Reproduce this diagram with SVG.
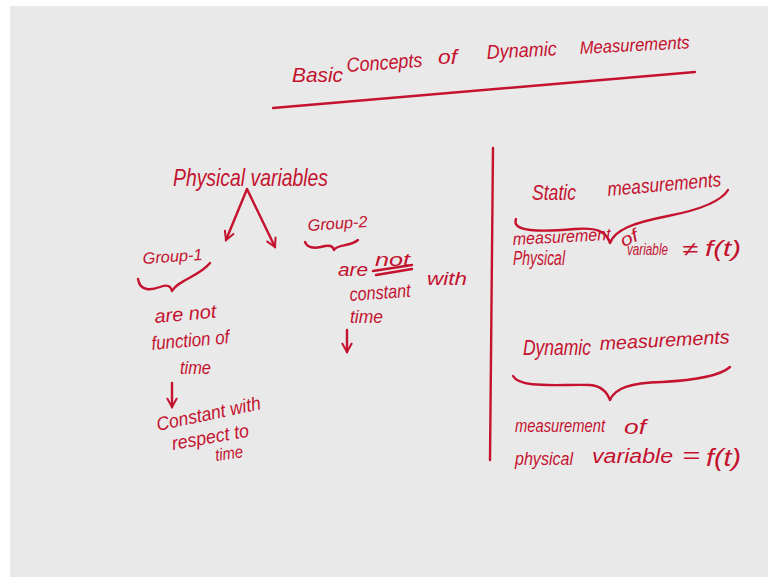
<svg xmlns="http://www.w3.org/2000/svg" width="768" height="577" viewBox="0 0 768 577">
<defs>
<style>
.ink{fill:#c4122f;font-family:"Liberation Sans","DejaVu Sans",sans-serif;font-style:italic}
.st{fill:none;stroke:#c4122f;stroke-width:2.4;stroke-linecap:round;stroke-linejoin:round}
</style>
<marker id="ah" viewBox="0 0 12 12" refX="10" refY="6" markerWidth="5" markerHeight="5" orient="auto" markerUnits="strokeWidth">
<path d="M1,1 L10,6 L1,11" fill="none" stroke="#c4122f" stroke-width="2"/>
</marker>
</defs>
<rect x="0" y="0" width="768" height="577" fill="#ffffff"/>
<rect x="10" y="6" width="758" height="571" fill="#e9e9e9"/>

<g id="title">
<text class="ink" x="292" y="82" font-size="21" textLength="51" lengthAdjust="spacingAndGlyphs">Basic</text>
<text class="ink" x="347" y="72" font-size="20" textLength="76" lengthAdjust="spacingAndGlyphs" transform="rotate(-4 347 72)">Concepts</text>
<text class="ink" x="438" y="64" font-size="20" textLength="19" lengthAdjust="spacingAndGlyphs">of</text>
<text class="ink" x="487" y="59" font-size="20" textLength="70" lengthAdjust="spacingAndGlyphs" transform="rotate(-3 487 59)">Dynamic</text>
<text class="ink" x="580" y="54" font-size="18" textLength="110" lengthAdjust="spacingAndGlyphs" transform="rotate(-3 580 54)">Measurements</text>
<path class="st" d="M273,108 L695,72"/>
</g>

<path class="st" id="divider" d="M493,148 L490,460"/>

<g id="physical-variables">
<text class="ink" x="173" y="186" font-size="24" textLength="155" lengthAdjust="spacingAndGlyphs">Physical variables</text>
</g>

<g id="connectors">
<path class="st" d="M247,189 L226,240" marker-end="url(#ah)"/>
<path class="st" d="M247,189 L275,247" marker-end="url(#ah)"/>
<path class="st" d="M172,383 L172,407" marker-end="url(#ah)"/>
<path class="st" d="M347,330 L347,352" marker-end="url(#ah)"/>
</g>

<g id="group-1">
<text class="ink" x="143" y="264" font-size="16" textLength="60" lengthAdjust="spacingAndGlyphs" transform="rotate(-4 143 264)">Group-1</text>
<path class="st" d="M138,279 C140,292 152,290 160,287 C167,284 171,286 172,291 C178,280 200,276 210,263"/>
<text class="ink" x="155" y="323" font-size="19" textLength="62" lengthAdjust="spacingAndGlyphs" transform="rotate(-5 155 323)">are not</text>
<text class="ink" x="152" y="350" font-size="19" textLength="78" lengthAdjust="spacingAndGlyphs" transform="rotate(-5 152 350)">function of</text>
<text class="ink" x="180" y="374" font-size="19" textLength="31" lengthAdjust="spacingAndGlyphs">time</text>
<text class="ink" x="158" y="431" font-size="19" textLength="106" lengthAdjust="spacingAndGlyphs" transform="rotate(-12 158 431)">Constant with</text>
<text class="ink" x="173" y="450" font-size="19" textLength="78" lengthAdjust="spacingAndGlyphs" transform="rotate(-10 173 450)">respect to</text>
<text class="ink" x="216" y="461" font-size="17" textLength="28" lengthAdjust="spacingAndGlyphs" transform="rotate(-8 216 461)">time</text>
</g>

<g id="group-2">
<text class="ink" x="308" y="231" font-size="16" textLength="60" lengthAdjust="spacingAndGlyphs" transform="rotate(-4 308 231)">Group-2</text>
<path class="st" d="M305,242 C308,250 318,248 325,246 C330,245 333,246 334,250 C337,244 350,247 358,240"/>
<text class="ink" x="338" y="276" font-size="19" textLength="30" lengthAdjust="spacingAndGlyphs">are</text>
<text class="ink" x="375" y="266" font-size="19" textLength="35" lengthAdjust="spacingAndGlyphs">not</text>
<path class="st" d="M373,271 L412,265 M376,275 L412,269"/>
<text class="ink" x="427" y="285" font-size="19" textLength="40" lengthAdjust="spacingAndGlyphs">with</text>
<text class="ink" x="350" y="301" font-size="19" textLength="61" lengthAdjust="spacingAndGlyphs" transform="rotate(-4 350 301)">constant</text>
<text class="ink" x="350" y="323" font-size="19" textLength="33" lengthAdjust="spacingAndGlyphs">time</text>
</g>

<g id="static">
<text class="ink" x="532" y="200" font-size="22" textLength="44" lengthAdjust="spacingAndGlyphs">Static</text>
<text class="ink" x="608" y="196" font-size="20" textLength="114" lengthAdjust="spacingAndGlyphs" transform="rotate(-5 608 196)">measurements</text>
<path class="st" d="M516,219 C511,232 540,232 575,229 C598,227 606,232 610,243 C615,230 632,223 668,216 C704,209 722,200 728,190"/>
<text class="ink" x="513" y="245" font-size="17" textLength="98" lengthAdjust="spacingAndGlyphs" transform="rotate(-3 513 245)">measurement</text>
<text class="ink" x="620" y="244" font-size="18" textLength="18" lengthAdjust="spacingAndGlyphs" transform="rotate(-25 629 238)">of</text>
<text class="ink" x="513" y="265" font-size="20" textLength="52" lengthAdjust="spacingAndGlyphs">Physical</text>
<text class="ink" x="627" y="255" font-size="17" textLength="41" lengthAdjust="spacingAndGlyphs">variable</text>
<text class="ink" x="682" y="256" font-size="20" textLength="16" lengthAdjust="spacingAndGlyphs">≠</text>
<text class="ink" x="705" y="256" font-size="22" textLength="36" lengthAdjust="spacingAndGlyphs">f(t)</text>
</g>

<g id="dynamic">
<text class="ink" x="523" y="355" font-size="22" textLength="68" lengthAdjust="spacingAndGlyphs">Dynamic</text>
<text class="ink" x="600" y="350" font-size="19" textLength="130" lengthAdjust="spacingAndGlyphs" transform="rotate(-3 600 350)">measurements</text>
<path class="st" d="M513,376 C520,389 560,384 590,385 C602,386 607,392 610,400 C615,388 630,383 662,382 C700,380 721,375 730,367"/>
<text class="ink" x="515" y="432" font-size="18" textLength="90" lengthAdjust="spacingAndGlyphs">measurement</text>
<text class="ink" x="624" y="434" font-size="21" textLength="22" lengthAdjust="spacingAndGlyphs">of</text>
<text class="ink" x="515" y="465" font-size="19" textLength="58" lengthAdjust="spacingAndGlyphs">physical</text>
<text class="ink" x="592" y="463" font-size="20" textLength="81" lengthAdjust="spacingAndGlyphs">variable</text>
<text class="ink" x="682" y="463" font-size="22" textLength="18" lengthAdjust="spacingAndGlyphs">=</text>
<text class="ink" x="706" y="466" font-size="24" textLength="35" lengthAdjust="spacingAndGlyphs">f(t)</text>
</g>
</svg>
